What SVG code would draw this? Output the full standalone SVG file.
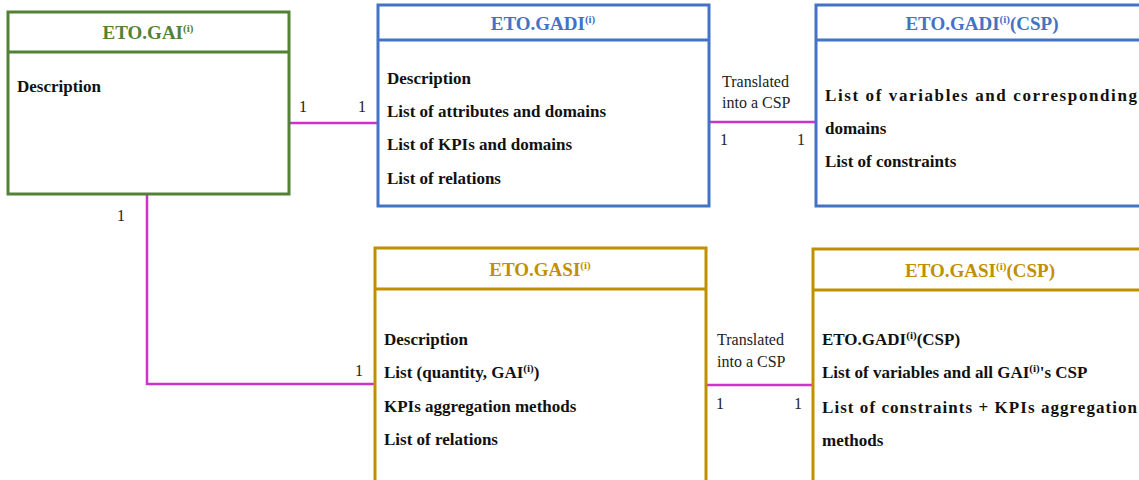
<svg xmlns="http://www.w3.org/2000/svg" width="1139" height="480" viewBox="0 0 1139 480">
<rect width="1139" height="480" fill="#fff"/>
<g id="connectors" fill="none" stroke="#CC33CC" stroke-width="2.5">
<path d="M289 123 H378"/>
<path d="M709 122 H816"/>
<path d="M706 385 H813"/>
<path d="M147 194 V384 H375"/>
</g>
<g id="connector-labels">
<text font-family="Liberation Serif" font-size="16" fill="#222" x="299" y="112">1</text>
<text font-family="Liberation Serif" font-size="16" fill="#222" x="358" y="112">1</text>
<text font-family="Liberation Serif" font-size="16" fill="#222" x="722" y="87">Translated</text>
<text font-family="Liberation Serif" font-size="16" fill="#222" x="722" y="108">into a CSP</text>
<text font-family="Liberation Serif" font-size="16" fill="#222" x="720" y="145">1</text>
<text font-family="Liberation Serif" font-size="16" fill="#222" x="797" y="145">1</text>
<text font-family="Liberation Serif" font-size="16" fill="#222" x="717" y="345">Translated</text>
<text font-family="Liberation Serif" font-size="16" fill="#222" x="717" y="367">into a CSP</text>
<text font-family="Liberation Serif" font-size="16" fill="#222" x="716" y="409">1</text>
<text font-family="Liberation Serif" font-size="16" fill="#222" x="794" y="409">1</text>
<text font-family="Liberation Serif" font-size="16" fill="#222" x="117" y="221">1</text>
<text font-family="Liberation Serif" font-size="16" fill="#222" x="355" y="376">1</text>
</g>
<g id="gai">
<rect x="8" y="12" width="281" height="182" fill="#fff" stroke="#538135" stroke-width="3"/>
<line x1="8" y1="52" x2="289" y2="52" stroke="#538135" stroke-width="3"/>
<text font-family="Liberation Serif" font-weight="bold" font-size="19" fill="#538135" text-anchor="middle" x="148" y="39">ETO.GAI<tspan font-size="11" dy="-7">(i)</tspan></text>
<text font-family="Liberation Serif" font-weight="bold" font-size="17" fill="#111" x="17" y="92">Description</text>
</g>
<g id="gadi">
<rect x="378" y="5" width="331" height="201" fill="#fff" stroke="#4472C4" stroke-width="3"/>
<line x1="378" y1="40" x2="709" y2="40" stroke="#4472C4" stroke-width="3"/>
<text font-family="Liberation Serif" font-weight="bold" font-size="19" fill="#4472C4" text-anchor="middle" x="543" y="30">ETO.GADI<tspan font-size="11" dy="-7">(i)</tspan></text>
<text font-family="Liberation Serif" font-weight="bold" font-size="17" fill="#111" x="387" y="84">Description</text>
<text font-family="Liberation Serif" font-weight="bold" font-size="17" fill="#111" x="387" y="117">List of attributes and domains</text>
<text font-family="Liberation Serif" font-weight="bold" font-size="17" fill="#111" x="387" y="150">List of KPIs and domains</text>
<text font-family="Liberation Serif" font-weight="bold" font-size="17" fill="#111" x="387" y="184">List of relations</text>
</g>
<g id="gadi-csp">
<rect x="816" y="5" width="330" height="201" fill="#fff" stroke="#4472C4" stroke-width="3"/>
<line x1="816" y1="40" x2="1146" y2="40" stroke="#4472C4" stroke-width="3"/>
<text font-family="Liberation Serif" font-weight="bold" font-size="19" fill="#4472C4" text-anchor="middle" x="982" y="30">ETO.GADI<tspan font-size="11" dy="-7">(i)</tspan><tspan dy="7">(CSP)</tspan></text>
<text font-family="Liberation Serif" font-weight="bold" font-size="17" fill="#111" x="825" y="101" textLength="312" lengthAdjust="spacing">List of variables and corresponding</text>
<text font-family="Liberation Serif" font-weight="bold" font-size="17" fill="#111" x="825" y="134">domains</text>
<text font-family="Liberation Serif" font-weight="bold" font-size="17" fill="#111" x="825" y="167">List of constraints</text>
</g>
<g id="gasi">
<rect x="375" y="248" width="331" height="235" fill="#fff" stroke="#BF9000" stroke-width="3"/>
<line x1="375" y1="289" x2="706" y2="289" stroke="#BF9000" stroke-width="3"/>
<text font-family="Liberation Serif" font-weight="bold" font-size="19" fill="#BF9000" text-anchor="middle" x="540" y="276">ETO.GASI<tspan font-size="11" dy="-7">(i)</tspan></text>
<text font-family="Liberation Serif" font-weight="bold" font-size="17" fill="#111" x="384" y="345">Description</text>
<text font-family="Liberation Serif" font-weight="bold" font-size="17" fill="#111" x="384" y="378">List (quantity, GAI<tspan font-size="11" dy="-6">(i)</tspan><tspan dy="6">)</tspan></text>
<text font-family="Liberation Serif" font-weight="bold" font-size="17" fill="#111" x="384" y="412">KPIs aggregation methods</text>
<text font-family="Liberation Serif" font-weight="bold" font-size="17" fill="#111" x="384" y="445">List of relations</text>
</g>
<g id="gasi-csp">
<rect x="813" y="249" width="333" height="234" fill="#fff" stroke="#BF9000" stroke-width="3"/>
<line x1="813" y1="290" x2="1146" y2="290" stroke="#BF9000" stroke-width="3"/>
<text font-family="Liberation Serif" font-weight="bold" font-size="19" fill="#BF9000" text-anchor="middle" x="980" y="277">ETO.GASI<tspan font-size="11" dy="-7">(i)</tspan><tspan dy="7">(CSP)</tspan></text>
<text font-family="Liberation Serif" font-weight="bold" font-size="17" fill="#111" x="822" y="345">ETO.GADI<tspan font-size="11" dy="-6">(i)</tspan><tspan dy="6">(CSP)</tspan></text>
<text font-family="Liberation Serif" font-weight="bold" font-size="17" fill="#111" x="822" y="378">List of variables and all GAI<tspan font-size="11" dy="-6">(i)</tspan><tspan dy="6">'s CSP</tspan></text>
<text font-family="Liberation Serif" font-weight="bold" font-size="17" fill="#111" x="822" y="413" textLength="315" lengthAdjust="spacing">List of constraints + KPIs aggregation</text>
<text font-family="Liberation Serif" font-weight="bold" font-size="17" fill="#111" x="822" y="446">methods</text>
</g>
</svg>
